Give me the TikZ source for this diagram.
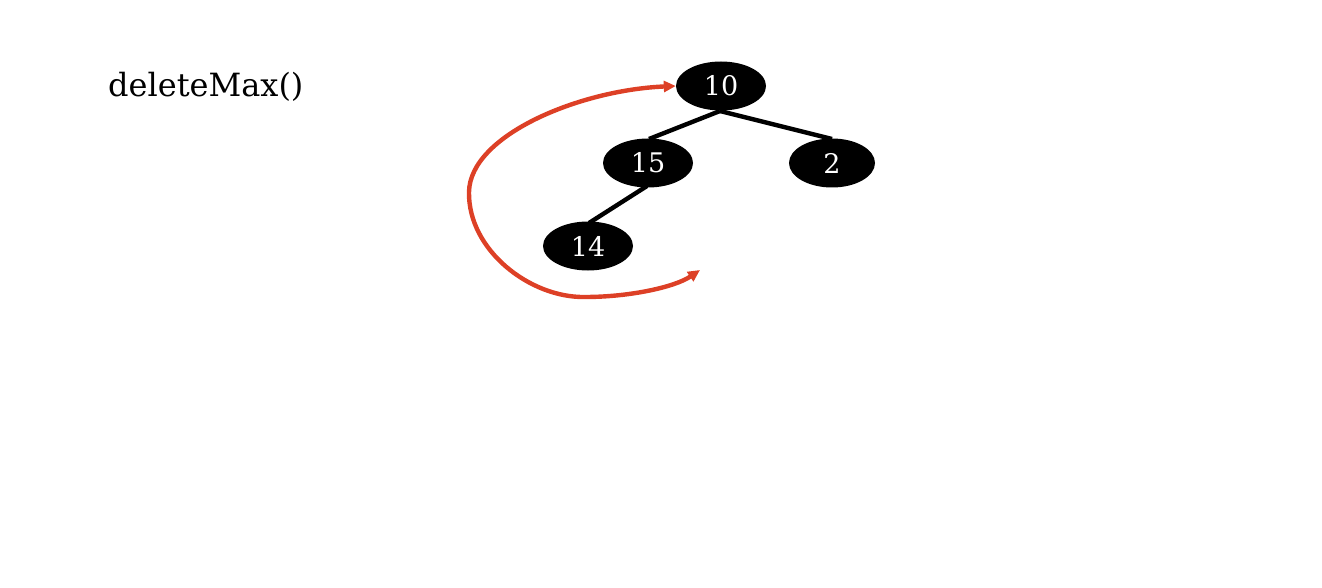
\documentclass[tikz,border=0pt]{standalone}
\usepackage{fontspec}
\setmainfont{DejaVu Serif}
\usetikzlibrary{shapes.geometric,arrows.meta}
\definecolor{arrowred}{RGB}{221,64,38}
\tikzset{
  heapnode/.style={ellipse, fill=black, text=white, minimum width=90pt, minimum height=49pt, inner sep=0pt, font=\fontsize{27}{30}\selectfont},
  treeedge/.style={line width=4.4pt, black},
  movearrow/.style={line width=4.4pt, arrowred, {Triangle[length=12pt,width=11pt]}-{Triangle[length=12pt,width=11pt]}},
  title/.style={anchor=base west, inner sep=0pt, font=\fontsize{32}{38}\selectfont}
}
\begin{document}
\begin{tikzpicture}[x=1pt,y=-1pt]
\useasboundingbox (0,0) rectangle (1322,588);
\node[title] (t) at (108,97) {deleteMax()};
\coordinate (e10) at (720,111);
\draw[treeedge] (e10) -- (649,139);
\draw[treeedge] (e10) -- (832,139);
\draw[treeedge] (647,186) -- (589,223);
\node[heapnode] (n10) at (721,86) {10};
\node[heapnode] (n15) at (648,163) {15};
\node[heapnode, minimum width=86pt] (n2) at (832,163) {2};
\node[heapnode] (n14) at (588,246) {14};
\coordinate (free) at (700,270);
\draw[movearrow] (n10.west) .. controls (580,90) and (470,135) .. (469,192)
  .. controls (468,250) and (530,298) .. (585,297)
  .. controls (630,297) and (675,287) .. (free);
\end{tikzpicture}
\end{document}
